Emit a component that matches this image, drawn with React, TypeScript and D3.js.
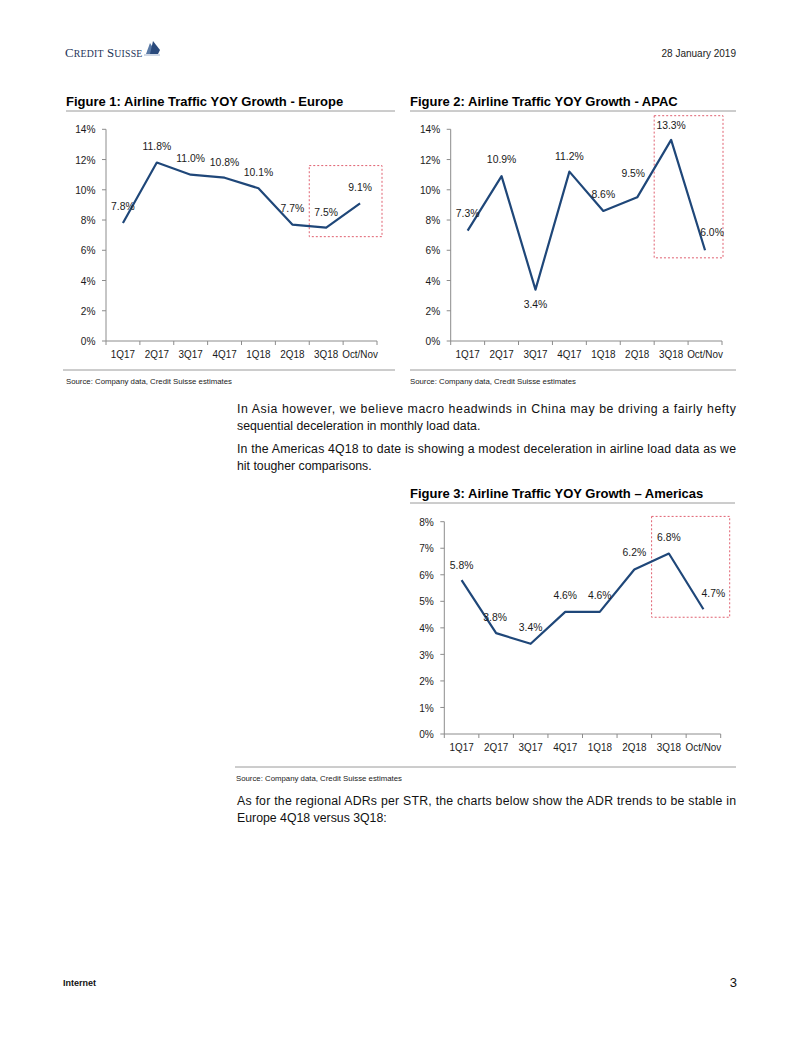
import React from "react";
import * as d3 from "d3";

const quarters = ["1Q17", "2Q17", "3Q17", "4Q17", "1Q18", "2Q18", "3Q18", "Oct/Nov"];
const europeValues = [7.8, 11.8, 11.0, 10.8, 10.1, 7.7, 7.5, 9.1];
const apacValues = [7.3, 10.9, 3.4, 11.2, 8.6, 9.5, 13.3, 6.0];
const americasValues = [5.8, 3.8, 3.4, 4.6, 4.6, 6.2, 6.8, 4.7];
const wideTicks = [0, 2, 4, 6, 8, 10, 12, 14];
const narrowTicks = [0, 1, 2, 3, 4, 5, 6, 7, 8];

// label offsets (layout only): [dx, dy of text centre relative to point]
const europeLabelOffsets = [[0, -17], [0, -17], [0, -16.5], [0, -16], [0, -16], [0, -16.5], [0, -16], [0, -17]];
const apacLabelOffsets = [[0, -17.5], [0, -17], [0, 14], [0, -16], [0, -17], [-4, -24], [0, -15], [7, -18]];
const americasLabelOffsets = [[0, -15], [-1, -16.5], [0, -17], [0, -17], [0, -17], [0, -17.5], [0, -17], [10, -16.5]];

const FONT = "'Liberation Sans', Arial, Helvetica, sans-serif";
const LINE = "#1f4779";
const AXIS = "#8c8c8c";
const BOX = "#e06070";

function CText({ x, y, sx, anchor, size, children }: { x: number; y: number; sx: number; anchor: string; size: number; children: any }) {
  return (
    <text transform={`translate(${x},${y}) scale(${sx},1)`} textAnchor={anchor} fontSize={size} fill="#1a1a1a" dy="0.35em">
      {children}
    </text>
  );
}

type ChartProps = {
  left: number; right: number; top: number; bottom: number;
  values: number[]; ticks: number[]; offsets: number[][];
  box: { from: string; hi: number; lo: number; padRight: number };
};

function LineChart({ left, right, top, bottom, values, ticks, offsets, box }: ChartProps) {
  const x = d3.scaleBand<string>().domain(quarters).range([left, right]).padding(0);
  const y = d3.scaleLinear().domain([0, d3.max(ticks) as number]).range([bottom, top]);
  const cx = (q: string) => (x(q) as number) + x.bandwidth() / 2;
  const line = d3.line<number>().x((_, i) => cx(quarters[i])).y((v) => y(v));
  const boundaries = quarters.map((q) => x(q) as number).concat([right]);
  const bx0 = x(box.from) as number;
  return (
    <g fontFamily={FONT}>
      <line x1={left} x2={left} y1={y(ticks[ticks.length - 1])} y2={bottom} stroke={AXIS} strokeWidth={1} />
      {ticks.map((t) => (
        <g key={t}>
          <line x1={left - 4} x2={left} y1={y(t)} y2={y(t)} stroke={AXIS} strokeWidth={1} />
          <CText x={left - 10.5} y={y(t)} sx={0.86} anchor="end" size={11.8}>{t}%</CText>
        </g>
      ))}
      <line x1={left} x2={right} y1={bottom} y2={bottom} stroke={AXIS} strokeWidth={1} />
      {boundaries.map((b, i) => (
        <line key={i} x1={b} x2={b} y1={bottom} y2={bottom + 4} stroke={AXIS} strokeWidth={1} />
      ))}
      {quarters.map((q) => (
        <CText key={q} x={cx(q)} y={bottom + 13} sx={0.84} anchor="middle" size={11.8}>{q}</CText>
      ))}
      <rect x={bx0} y={y(box.hi)} width={right + box.padRight - bx0} height={y(box.lo) - y(box.hi)}
        fill="none" stroke={BOX} strokeWidth={1} strokeDasharray="2,2" />
      <path d={line(values) || ""} fill="none" stroke={LINE} strokeWidth={2.2} strokeLinejoin="round" />
      {values.map((v, i) => (
        <CText key={i} x={cx(quarters[i]) + offsets[i][0]} y={y(v) + offsets[i][1]} sx={0.88} anchor="middle" size={11.8}>
          {v.toFixed(1)}%
        </CText>
      ))}
    </g>
  );
}

function Title({ x, y, x2, text }: { x: number; y: number; x2: number; text: string }) {
  return (
    <g>
      <text x={x} y={y} fontFamily={FONT} fontWeight="bold" fontSize={13} fill="#000">{text}</text>
      <line x1={x} x2={x2} y1={y + 5} y2={y + 5} stroke="#9a9a9a" strokeWidth={1} />
    </g>
  );
}

function Source({ x, y, x1, x2 }: { x: number; y: number; x1: number; x2: number }) {
  return (
    <g>
      <line x1={x1} x2={x2} y1={y - 14} y2={y - 14} stroke="#9a9a9a" strokeWidth={1} />
      <text x={x} y={y} fontFamily={FONT} fontSize={7.8} fill="#222">Source: Company data, Credit Suisse estimates</text>
    </g>
  );
}

function Para({ x, y, width, lines }: { x: number; y: number; width: number; lines: string[] }) {
  return (
    <g>
      {lines.map((l, i) => (
        <text key={i} x={x} y={y + i * 17} fontFamily={FONT} fontSize={12.3} fill="#111"
          {...(i < lines.length - 1 ? { textLength: width, lengthAdjust: "spacing" } : {})}>{l}</text>
      ))}
    </g>
  );
}

export default function App() {
  return (
    <div style={{ position: "absolute", left: 0, top: 0 }}>
      <svg width={802} height={1037} viewBox="0 0 802 1037" style={{ display: "block", background: "#fff" }}>
        <rect x={0} y={0} width={802} height={1037} fill="#fff" />
        <text x={65} y={57} fontFamily="'Liberation Serif', 'DejaVu Serif', serif" fill="#1d3358" fontSize={12.8} letterSpacing={0.2}>
          C<tspan fontSize={9.8}>REDIT</tspan> S<tspan fontSize={9.8}>UISSE</tspan>
        </text>
        <path d="M146,54 L150,43 L157,54 Z" fill="#5a7aa6" />
        <path d="M150,54 L153,41 L160,50 L158,54 Z" fill="#2a4a7c" />
        <path d="M144,55 L160,55" stroke="#8aa0c0" strokeWidth={0.8} />
        <text x={736} y={57} textAnchor="end" fontFamily={FONT} fontSize={10} fill="#222">28 January 2019</text>

        <Title x={66} y={106} x2={395} text="Figure 1: Airline Traffic YOY Growth - Europe" />
        <Title x={410} y={106} x2={736} text="Figure 2: Airline Traffic YOY Growth - APAC" />
        <LineChart left={106} right={377} top={129.3} bottom={341} values={europeValues} ticks={wideTicks}
          offsets={europeLabelOffsets} box={{ from: "3Q18", hi: 11.6, lo: 6.9, padRight: 5 }} />
        <LineChart left={450.7} right={722} top={129.3} bottom={341} values={apacValues} ticks={wideTicks}
          offsets={apacLabelOffsets} box={{ from: "3Q18", hi: 14.9, lo: 5.5, padRight: 1 }} />
        <Source x={66} y={384} x1={63} x2={395} />
        <Source x={410} y={384} x1={410} x2={736} />

        <Para x={237} y={413} width={499} lines={[
          "In Asia however, we believe macro headwinds in China may be driving a fairly hefty",
          "sequential deceleration in monthly load data.",
        ]} />
        <Para x={237} y={453} width={499} lines={[
          "In the Americas 4Q18 to date is showing a modest deceleration in airline load data as we",
          "hit tougher comparisons.",
        ]} />

        <Title x={410} y={498} x2={735} text={"Figure 3: Airline Traffic YOY Growth \u2013 Americas"} />
        <LineChart left={444.3} right={720.7} top={521.7} bottom={734} values={americasValues} ticks={narrowTicks}
          offsets={americasLabelOffsets} box={{ from: "3Q18", hi: 8.2, lo: 4.4, padRight: 9 }} />
        <Source x={236} y={781} x1={235} x2={736} />

        <Para x={237} y={805} width={499} lines={[
          "As for the regional ADRs per STR, the charts below show the ADR trends to be stable in",
          "Europe 4Q18 versus 3Q18:",
        ]} />

        <text x={63} y={986} fontFamily={FONT} fontWeight="bold" fontSize={9} fill="#111">Internet</text>
        <text x={737} y={987} textAnchor="end" fontFamily={FONT} fontSize={13} fill="#111">3</text>
      </svg>
    </div>
  );
}
